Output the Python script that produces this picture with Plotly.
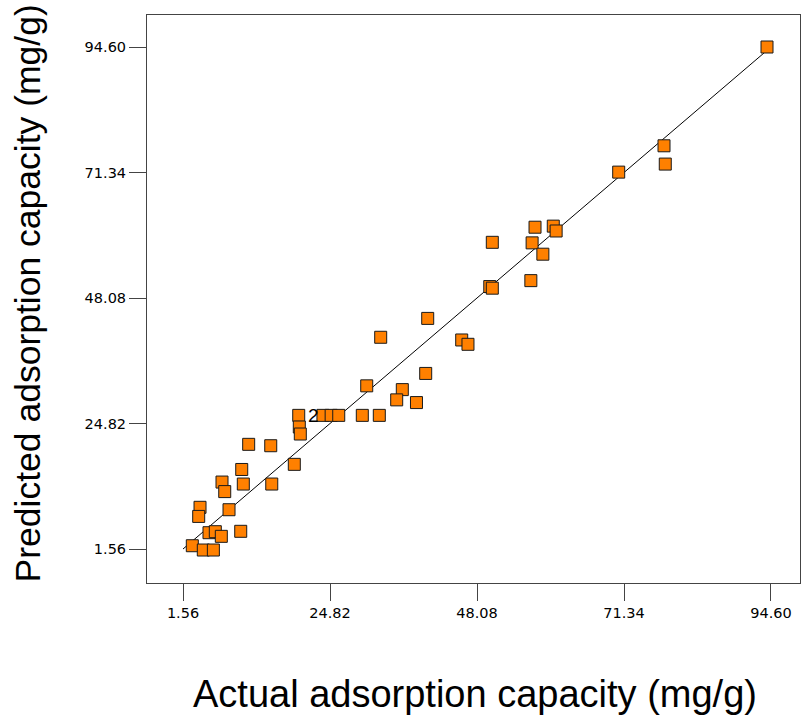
import plotly.graph_objects as go

actual = [93.97, 77.67, 77.87, 70.5, 57.26, 60.15, 60.6, 50.5, 56.8, 58.5, 50.1, 50.5, 56.6,
          45.66, 46.65, 40.28, 32.84, 39.96, 30.63, 36.26, 35.37, 38.5,
          19.87, 23.7, 25.0, 26.2, 29.93, 32.62,
          19.96, 20.12, 11.95, 15.44, 19.17, 10.85,
          7.73, 11.1, 15.6, 8.16, 4.25, 4.04, 8.84, 5.67, 6.67, 7.62, 10.69, 3.03, 4.77, 6.36]
predicted = [94.6, 76.29, 72.9, 71.41, 61.2, 61.4, 60.5, 58.4, 58.3, 56.2, 50.2, 49.9, 51.3,
             40.3, 39.5, 44.3, 40.8, 34.1, 31.8, 31.1, 29.2, 28.7,
             26.33, 26.33, 26.33, 26.33, 26.33, 26.33,
             24.17, 22.87, 20.96, 20.7, 17.25, 16.3,
             13.97, 13.6, 13.6, 12.2, 9.29, 7.6, 8.84, 4.58, 4.77, 3.91, 4.84, 2.17, 1.37, 1.37]

ticks = [1.56, 24.82, 48.08, 71.34, 94.60]
tick_labels = ["1.56", "24.82", "48.08", "71.34", "94.60"]
ref_line = [1.56, 94.60]
dup_label_pos = (22.2, 26.33)
x_title = "Actual adsorption capacity (mg/g)"
y_title = "Predicted adsorption capacity (mg/g)"

fig = go.Figure()
fig.add_trace(go.Scatter(x=ref_line, y=ref_line, mode="lines",
                         line=dict(color="black", width=1), hoverinfo="skip", showlegend=False))
fig.add_trace(go.Scatter(x=actual, y=predicted, mode="markers",
                         marker=dict(symbol="square", size=12, color="#FF8000",
                                     line=dict(color="#1a1a1a", width=1)),
                         showlegend=False))
fig.add_annotation(x=dup_label_pos[0], y=dup_label_pos[1], text="2", showarrow=False,
                   font=dict(family="Liberation Sans, Arial", size=19, color="black"))

axis_common = dict(tickmode="array", tickvals=ticks, ticktext=tick_labels,
                   ticks="outside", ticklen=17, tickwidth=1, tickcolor="#444",
                   showgrid=False, zeroline=False, showline=True, linecolor="#444",
                   linewidth=1, mirror=True,
                   tickfont=dict(family="DejaVu Sans, Verdana", size=14.5, color="black"))

fig.update_layout(
    width=802, height=715,
    margin=dict(l=147, r=2, t=15, b=132),
    paper_bgcolor="white", plot_bgcolor="white",
    xaxis=dict(range=[-4.14, 99.19], **axis_common),
    yaxis=dict(range=[-4.74, 100.53], **axis_common),
)
fig.add_annotation(text=x_title, xref="paper", yref="paper", x=0.502, y=-0.195,
                   xanchor="center", yanchor="middle", showarrow=False,
                   font=dict(family="Liberation Sans, Arial", size=38, color="black"))
fig.add_annotation(text=y_title, xref="paper", yref="paper", x=-0.183, y=0.509,
                   xanchor="center", yanchor="middle", showarrow=False, textangle=-90,
                   font=dict(family="Liberation Sans, Arial", size=35.5, color="black"))

fig.write_html("out.html")
